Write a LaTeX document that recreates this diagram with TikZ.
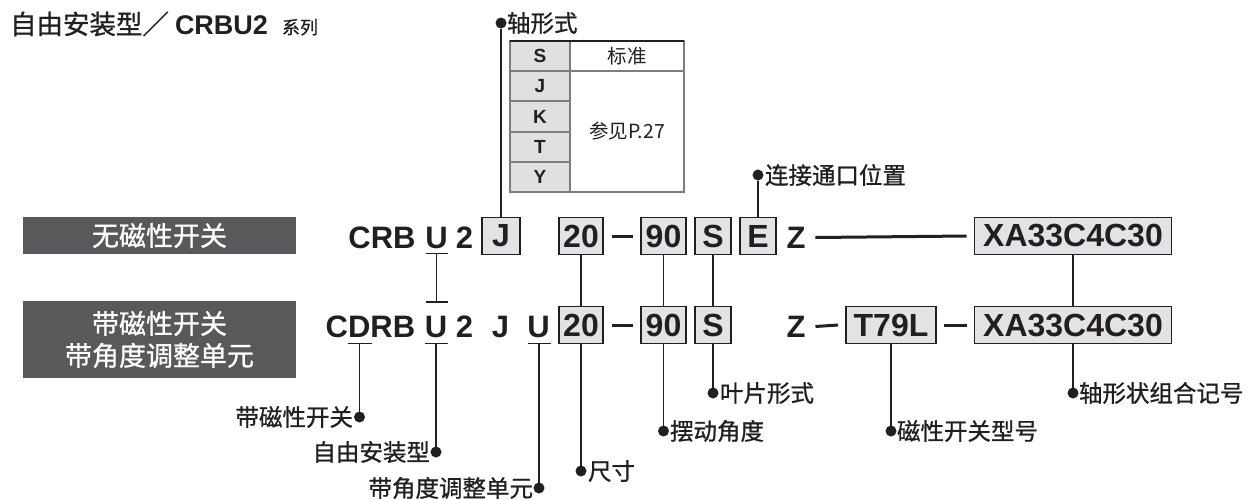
\documentclass[tikz,border=0pt]{standalone}
\usepackage{fontspec}
\setmainfont{Liberation Sans}
\newfontfamily\cjk{Noto Sans CJK SC}
\newfontfamily\cjkm{Noto Sans CJK SC}[FakeBold=0.9]
\definecolor{ink}{RGB}{35,31,32}
\definecolor{boxfill}{RGB}{226,227,228}
\definecolor{darkbg}{RGB}{88,89,91}
\definecolor{tabline}{RGB}{125,125,125}
\definecolor{tabfill}{RGB}{224,224,224}
\begin{document}
\begin{tikzpicture}[x=1pt,y=-1pt,
  every node/.style={inner sep=0pt, outer sep=0pt, text=ink},
  code/.style={font=\bfseries\fontsize{31}{31}\selectfont},
  cbox/.style={font=\bfseries\fontsize{32}{32}\selectfont, draw=ink, fill=boxfill, line width=1.5pt, minimum height=37pt},
  conn/.style={draw=ink, line width=1.8pt},
  dashln/.style={draw=ink, line width=3pt},
  dotnode/.style={circle, fill=ink, minimum size=11pt},
  lbl/.style={font=\cjkm\fontsize{23.5}{26}\selectfont},
  darkbox/.style={fill=darkbg, text=white, font=\cjkm\fontsize{27}{32}\selectfont, align=center, minimum width=273pt},
  tcode/.style={font=\bfseries\fontsize{19}{19}\selectfont},
  ttext/.style={font=\cjk\fontsize{19.5}{20}\selectfont},
]
\useasboundingbox (0,0) rectangle (1250,499);

% title
\node[anchor=base west] (title) at (10,34) {{\cjkm\fontsize{26.5}{30}\selectfont 自由安装型／}\hspace{6pt}{\bfseries\fontsize{27}{30}\selectfont CRBU2}\hspace{14pt}{\cjkm\fontsize{18}{20}\selectfont 系列}};

% dark boxes
\node[darkbox, minimum height=37pt] (dk1) at (159.5,235.5) {无磁性开关};
\node[darkbox, minimum height=77pt] (dk2) at (159.5,339.5) {带磁性开关\\带角度调整单元};

% table
\fill[tabfill] (510,41) rectangle (570,192);
\draw[tabline, line width=1.2pt] (510,41) rectangle (684,192);
\draw[tabline, line width=1.2pt] (570,41) -- (570,192);
\draw[tabline, line width=1.2pt] (510,71) -- (684,71);
\draw[tabline, line width=1.2pt] (510,101) -- (570,101);
\draw[tabline, line width=1.2pt] (510,132) -- (570,132);
\draw[tabline, line width=1.2pt] (510,162) -- (570,162);
\draw[ink, line width=2pt] (510,41) -- (684,41);
\node[tcode] (tS) at (540,56) {S};
\node[tcode] (tJ) at (540,86) {J};
\node[tcode] (tK) at (540,116.5) {K};
\node[tcode] (tT) at (540,147) {T};
\node[tcode] (tY) at (540,177) {Y};
\node[ttext] (tstd) at (627,56) {标准};
\node[ttext] (tref) at (627,131.5) {参见P.27};

% row 1
\node[code] (c1) at (382,237.5) {CRB};
\node[code] (u1) at (436.5,237.5) {U};
\node[code] (n1) at (464.5,237.5) {2};
\node[cbox, minimum width=38pt] (j1) at (501,236) {J};
\node[cbox, minimum width=44pt] (s20a) at (581,236) {20};
\node[cbox, minimum width=45pt] (s90a) at (663.5,236) {90};
\node[cbox, minimum width=36pt] (sa) at (713,236) {S};
\node[cbox, minimum width=36pt] (ea) at (758,236) {E};
\node[code] (za) at (796,237.5) {Z};
\node[cbox, minimum width=197pt] (xa1) at (1073,236) {XA33C4C30};
\draw[dashln] ([xshift=9pt]s20a.east) -- ([xshift=-8pt]s90a.west);
\draw[dashln] ([xshift=10pt]za.east) -- ([xshift=-8pt]xa1.west);

% row 2
\node[code] (cdrb) at (370.5,326.5) {CDRB};
\node[code] (u2) at (436,326.5) {U};
\node[code] (n2) at (464.5,326.5) {2};
\node[code] (j2) at (500.5,326.5) {J};
\node[code] (u3) at (538.5,326.5) {U};
\node[cbox, minimum width=44pt] (s20b) at (581,325) {20};
\node[cbox, minimum width=45pt] (s90b) at (663.5,325) {90};
\node[cbox, minimum width=36pt] (sb) at (713,325) {S};
\node[code] (zb) at (796,326.5) {Z};
\node[cbox, minimum width=90pt] (t79) at (891,325) {T79L};
\node[cbox, minimum width=197pt] (xa2) at (1073,325) {XA33C4C30};
\draw[dashln] ([xshift=9pt]s20b.east) -- ([xshift=-8pt]s90b.west);
\draw[dashln] ([xshift=10pt]zb.east) -- ([xshift=-8pt]t79.west);
\draw[dashln] ([xshift=8pt]t79.east) -- ([xshift=-8pt]xa2.west);

% U to U I-beam
\coordinate (u1b) at (436.5,253.5);
\coordinate (u2t) at (436.5,302);
\draw[conn] ([xshift=-11pt]u1b) -- ([xshift=11pt]u1b);
\draw[conn] (u1b) -- (u2t);
\draw[conn] ([xshift=-11pt]u2t) -- ([xshift=11pt]u2t);

% row links
\draw[conn] (s20a.south) -- (s20b.north);
\draw[conn] (s90a.south) -- (s90b.north);
\draw[conn] (sa.south) -- (sb.north);
\draw[conn] (xa1.south) -- (xa2.north);

% top labels
\node[dotnode] (dJ) at (501,23) {};
\node[lbl, anchor=west] (lJ) at (507,23) {轴形式};
\draw[conn] (dJ) -- (j1.north);
\node[dotnode] (dE) at (758,175) {};
\node[lbl, anchor=west] (lE) at (765,175) {连接通口位置};
\draw[conn] (dE) -- (ea.north);

% underlines in row 2
\coordinate (dul) at (359.5,343.5);
\coordinate (uul) at (436,343.5);
\coordinate (u3ul) at (539,343.5);
\draw[conn] ([xshift=-12pt]dul) -- ([xshift=12pt]dul);
\draw[conn] ([xshift=-11.5pt]uul) -- ([xshift=11.5pt]uul);
\draw[conn] ([xshift=-11.5pt]u3ul) -- ([xshift=11.5pt]u3ul);

% bottom labels
\node[dotnode] (dD) at (359.5,417) {};
\node[lbl, anchor=east] (lD) at (353,417) {带磁性开关};
\draw[conn] (dul) -- (dD);
\node[dotnode] (dU) at (436,452) {};
\node[lbl, anchor=east] (lU) at (430,452) {自由安装型};
\draw[conn] (uul) -- (dU);
\node[dotnode] (dU3) at (539,488) {};
\node[lbl, anchor=east] (lU3) at (533,488) {带角度调整单元};
\draw[conn] (u3ul) -- (dU3);
\node[dotnode] (d20) at (581,471) {};
\node[lbl, anchor=west] (l20) at (588,471) {尺寸};
\draw[conn] (s20b.south) -- (d20);
\node[dotnode] (d90) at (663.5,431) {};
\node[lbl, anchor=west] (l90) at (670,431) {摆动角度};
\draw[conn] (s90b.south) -- (d90);
\node[dotnode] (dS) at (713,393) {};
\node[lbl, anchor=west] (lS) at (720,393) {叶片形式};
\draw[conn] (sb.south) -- (dS);
\node[dotnode] (dT) at (891,431) {};
\node[lbl, anchor=west] (lT) at (897,431) {磁性开关型号};
\draw[conn] (t79.south) -- (dT);
\node[dotnode] (dX) at (1073,393) {};
\node[lbl, anchor=west] (lX) at (1079,393) {轴形状组合记号};
\draw[conn] (xa2.south) -- (dX);
\end{tikzpicture}
\end{document}
